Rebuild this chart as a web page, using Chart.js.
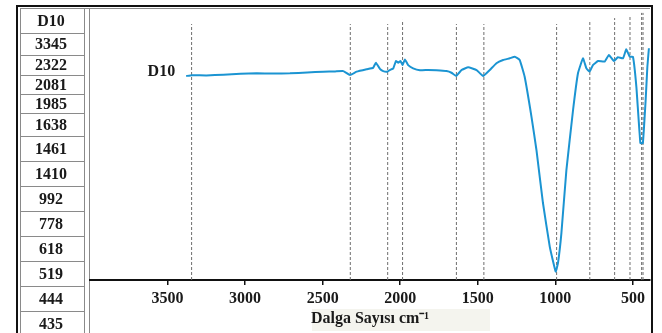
<!DOCTYPE html>
<html>
<head>
<meta charset="utf-8">
<script src="https://cdn.jsdelivr.net/npm/chart.js@4.4.1/dist/chart.umd.min.js"></script>
<style>
html, body { margin: 0; padding: 0; background: #fff; }
#wrap { width: 662px; height: 333px; }
</style>
</head>
<body>
<div id="wrap"><canvas id="ftirChart" width="662" height="333"></canvas></div>
<script>
var sampleName = 'D10';
var peakLabels = [3345, 2322, 2081, 1985, 1638, 1461, 1410, 992, 778, 618, 519, 444, 435];

var wavenumbers = [3380, 3343, 3250, 3140, 3030, 2925, 2820, 2711, 2600, 2496, 2420, 2367, 2324, 2281, 2217, 2175, 2157, 2131, 2110, 2084, 2067, 2045, 2028, 2013, 1998, 1985, 1970, 1949, 1917, 1873, 1820, 1766, 1702, 1670, 1640, 1605, 1562, 1508, 1466, 1423, 1380, 1337, 1294, 1262, 1230, 1198, 1154, 1122, 1080, 1036, 998, 983, 961, 929, 886, 854, 822, 800, 779, 758, 725, 682, 655, 622, 597, 564, 543, 521, 500, 478, 452, 436, 418, 407, 397];
var transmittance = [75.0, 75.3, 75.2, 75.5, 75.8, 76.0, 75.9, 76.0, 76.3, 76.6, 76.7, 76.8, 75.4, 76.6, 77.5, 78.0, 79.9, 77.6, 76.8, 76.6, 77.2, 77.8, 80.5, 79.9, 80.5, 79.0, 81.1, 79.0, 77.8, 77.1, 77.2, 77.1, 76.8, 76.2, 75.0, 77.2, 78.2, 77.2, 75.0, 77.2, 79.7, 80.9, 81.5, 82.1, 80.9, 74.7, 60.0, 47.8, 28.3, 12.2, 3.1, 6.3, 17.3, 40.4, 62.5, 76.1, 81.5, 77.8, 76.6, 79.0, 80.5, 80.3, 82.7, 80.5, 81.9, 81.5, 84.8, 82.1, 82.1, 71.1, 50.3, 50.3, 66.2, 78.4, 85.2];

// dashed marker lines (1410 has no line in the figure)
var guideLines = [3345, 2322, 2081, 1985, 1638, 1461, 992, 778, 618, 519, 444, 435];
var guideTops = [94.1, 94.1, 94.1, 95.6, 94.1, 94.1, 94.1, 95.2, 96.3, 97.4, 98.2, 98.2];

var xTicks = [3500, 3000, 2500, 2000, 1500, 1000, 500];
var xTitle = 'Dalga Sayısı cm⁻¹';

// layout of the side table (pixels)
var rowLines = [8, 33, 55, 75, 94, 113, 136, 161, 186, 211, 236, 261, 286, 311, 336];

var serif = '"Liberation Serif", "Times New Roman", serif';

var framePlugin = {
	id: 'frame',
	beforeDraw: function(chart) {
		var c = chart.ctx;
		c.save();
		c.fillStyle = '#fff';
		c.fillRect(0, 0, chart.width, chart.height);
		c.fillStyle = '#f4f4ee';
		c.fillRect(312, 309, 178, 22);

		// table grid
		c.strokeStyle = '#8a8a8a';
		c.lineWidth = 1;
		c.beginPath();
		c.moveTo(20.5, 8); c.lineTo(20.5, 333);
		c.moveTo(84.5, 8); c.lineTo(84.5, 333);
		c.moveTo(89.5, 8); c.lineTo(89.5, 333);
		c.moveTo(20, 8.5); c.lineTo(650, 8.5);
		for (var i = 1; i < rowLines.length; i++) {
			c.moveTo(20, rowLines[i] + 0.5); c.lineTo(84, rowLines[i] + 0.5);
		}
		c.stroke();

		// table text
		var rows = [sampleName].concat(peakLabels);
		c.fillStyle = '#1a1a1a';
		c.font = 'bold 16px ' + serif;
		c.textAlign = 'center';
		c.textBaseline = 'middle';
		for (var j = 0; j < rows.length; j++) {
			c.fillText(String(rows[j]), 51, (rowLines[j] + rowLines[j + 1]) / 2 + 1);
		}
		c.restore();
	},
	afterDatasetsDraw: function(chart) {
		var c = chart.ctx;
		var xs = chart.scales.x, ys = chart.scales.y;
		c.save();
		c.fillStyle = '#1a1a1a';
		c.font = 'bold 16px ' + serif;
		c.textAlign = 'right';
		c.textBaseline = 'middle';
		c.fillText(sampleName, xs.getPixelForValue(wavenumbers[0]) - 11, ys.getPixelForValue(transmittance[0]) - 4);
		c.restore();
	},
	afterDraw: function(chart) {
		var c = chart.ctx;
		c.save();
		c.strokeStyle = '#111';
		c.lineWidth = 2;
		c.beginPath();
		c.moveTo(17, 333); c.lineTo(17, 6); c.lineTo(652, 6); c.lineTo(652, 333);
		c.stroke();
		c.restore();
	}
};

var datasets = [{
	label: sampleName,
	data: wavenumbers.map(function(w, i) { return { x: w, y: transmittance[i] }; }),
	borderColor: '#1b94d2',
	borderWidth: 2,
	pointRadius: 0,
	tension: 0.1
}];

guideLines.forEach(function(p, i) {
	datasets.push({
		label: 'peak ' + p,
		data: [{ x: p, y: 0 }, { x: p, y: guideTops[i] }],
		borderColor: '#6e6e6e',
		borderWidth: 1,
		borderDash: [3, 2],
		pointRadius: 0
	});
});

var ftirChart = new Chart(document.getElementById('ftirChart'), {
	type: 'line',
	data: { datasets: datasets },
	plugins: [framePlugin],
	options: {
		responsive: false,
		animation: false,
		events: [],
		layout: { padding: { left: 90, right: 12, top: 8, bottom: 0 } },
		plugins: {
			legend: { display: false },
			tooltip: { enabled: false }
		},
		scales: {
			x: {
				type: 'linear',
				reverse: true,
				min: 390,
				max: 4000,
				afterBuildTicks: function(scale) {
					scale.ticks = xTicks.map(function(v) { return { value: v }; });
				},
				afterFit: function(scale) { scale.height = 53; },
				grid: {
					drawOnChartArea: false,
					drawTicks: true,
					tickLength: 5,
					color: '#111',
					lineWidth: 1.5
				},
				border: { display: true, color: '#111', width: 2 },
				ticks: {
					padding: 4,
					color: '#1a1a1a',
					maxRotation: 0,
					font: { family: serif, size: 16, weight: 'bold' },
					callback: function(value) { return String(value); }
				},
				title: {
					display: true,
					text: xTitle,
					color: '#1a1a1a',
					padding: { top: 0, bottom: 5 },
					font: { family: serif, size: 16, weight: 'bold' }
				}
			},
			y: {
				display: false,
				min: 0,
				max: 100
			}
		}
	}
});
</script>
</body>
</html>
